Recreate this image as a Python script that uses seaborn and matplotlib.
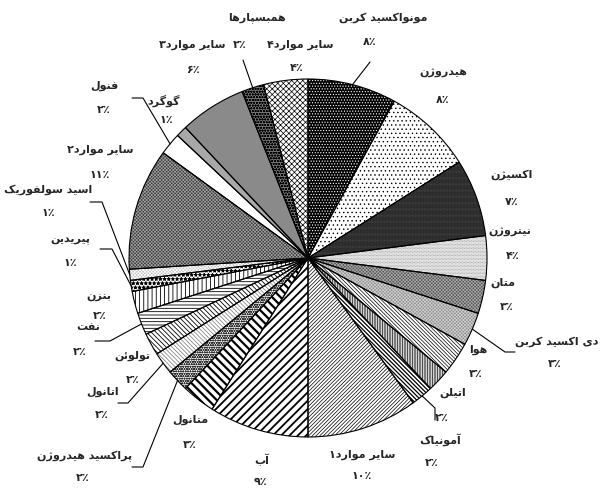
import matplotlib
matplotlib.use('Agg')
import matplotlib.pyplot as plt
import seaborn as sns
import numpy as np

sns.set_style('white')
plt.rcParams['font.family'] = ['DejaVu Sans']
plt.rcParams['hatch.linewidth'] = 0.5

# data (clockwise from 12 o'clock)
labels = ['مونواکسید کربن', 'هیدروژن', 'اکسیژن', 'نیتروژن', 'متان', 'دی اکسید کربن',
          'هوا', 'اتیلن', 'آمونیاک', 'سایر موارد۱', 'آب', 'متانول', 'پراکسید هیدروژن',
          'اتانول', 'تولوئن', 'نفت', 'بنزن', 'پیریدین', 'اسید سولفوریک', 'سایر موارد۲',
          'فنول', 'گوگرد', 'سایر موارد۳', 'همبسپارها', 'سایر موارد۴']
values = [8, 8, 7, 4, 3, 3, 3, 2, 2, 10, 9, 3, 2, 2, 2, 2, 2, 1, 1, 11, 2, 1, 6, 2, 4]

# styles: face colour, hatch symbol, repeat count, hatch colour, hatch width
face = ['#000000', '#ffffff', '#0a0a0a', '#ffffff', '#555555', '#909090',
        '#ffffff', '#ffffff', '#ffffff', '#ffffff', '#ffffff', '#ffffff', '#ffffff',
        '#ffffff', '#ffffff', '#ffffff', '#ffffff', '#ffffff', '#c4c4c4', '#3a3a3a',
        '#ffffff', '#a8a8a8', '#8a8a8a', '#7a7a7a', '#ffffff']
hatch_sym = ['.', '.', '.', '.', 'x', 'x',
             '\\', '|', '\\', '/', '/', '\\', 'o',
             '\\', '\\', '-', '|', '*', 'x', 'x',
             '', '', '', 'o', 'x']
hatch_rep = [6, 4, 14, 12, 10, 10,
             9, 10, 8, 9, 4, 4, 7,
             8, 7, 5, 4, 4, 10, 10,
             0, 0, 0, 6, 6]
hatch_col = ['white', 'black', '#6a6a6a', '#8a8a8a', '#a8a8a8', '#cfcfcf',
             'black', 'black', 'black', 'black', 'black', 'black', '#333333',
             '#777777', 'black', 'black', 'black', 'black', 'white', '#a0a0a0',
             'black', 'black', 'black', 'black', 'black']
hatch_lw = [0.5, 0.5, 0.5, 0.5, 0.5, 0.5,
            0.5, 0.5, 0.9, 0.5, 1.3, 1.6, 0.6,
            0.5, 0.6, 0.6, 0.6, 0.6, 0.5, 0.5,
            0.5, 0.5, 0.5, 0.6, 0.5]

# label layout in image pixels (y down): name, percent
name_pos = [(383, 18), (443, 73), (512, 175), (510, 232), (503, 283), (557, 342),
            (478, 350), (453, 393), (440, 440), (362, 455), (262, 460), (190, 420),
            (85, 456), (103, 392), (132, 356), (88, 327), (99, 297), (70, 240),
            (48, 190), (100, 150), (104, 86), (164, 101), (192, 45), (257, 18), (300, 45)]
pct_pos = [(370, 42), (443, 100), (512, 202), (513, 256), (507, 307), (555, 364),
           (476, 374), (442, 418), (432, 463), (362, 476), (260, 482), (190, 445),
           (83, 478), (102, 415), (133, 380), (80, 352), (100, 316), (70, 263),
           (48, 213), (100, 175), (104, 110), (166, 120), (193, 70), (240, 45), (297, 68)]
leaders = {0: [(370, 62)], 23: [(243, 60)], 20: [(132, 98), (143, 98)],
           18: [(90, 202), (102, 202)], 17: [(100, 249), (112, 249)],
           15: [(95, 341), (110, 341)], 13: [(118, 403), (128, 403)],
           12: [(132, 467), (143, 467)], 8: [(435, 420), (435, 408)],
           5: [(515, 352), (505, 352)]}

FORMS = {
    'ا': ('\uFE8D', '\uFE8E', None, None), 'آ': ('\uFE81', '\uFE82', None, None),
    'ب': ('\uFE8F', '\uFE90', '\uFE91', '\uFE92'), 'پ': ('\uFB56', '\uFB57', '\uFB58', '\uFB59'),
    'ت': ('\uFE95', '\uFE96', '\uFE97', '\uFE98'), 'د': ('\uFEA9', '\uFEAA', None, None),
    'ر': ('\uFEAD', '\uFEAE', None, None), 'ز': ('\uFEAF', '\uFEB0', None, None),
    'ژ': ('\uFB8A', '\uFB8B', None, None), 'س': ('\uFEB1', '\uFEB2', '\uFEB3', '\uFEB4'),
    'ف': ('\uFED1', '\uFED2', '\uFED3', '\uFED4'), 'ک': ('\uFB8E', '\uFB8F', '\uFB90', '\uFB91'),
    'گ': ('\uFB92', '\uFB93', '\uFB94', '\uFB95'), 'ل': ('\uFEDD', '\uFEDE', '\uFEDF', '\uFEE0'),
    'م': ('\uFEE1', '\uFEE2', '\uFEE3', '\uFEE4'), 'ن': ('\uFEE5', '\uFEE6', '\uFEE7', '\uFEE8'),
    'و': ('\uFEED', '\uFEEE', None, None), 'ه': ('\uFEE9', '\uFEEA', '\uFEEB', '\uFEEC'),
    'ی': ('\uFBFC', '\uFBFD', '\uFBFE', '\uFBFF'), 'ئ': ('\uFE89', '\uFE8A', '\uFE8B', '\uFE8C'),
}


def shape(text):
    # tiny persian shaper: contextual forms + right-to-left order
    out = []
    for i, c in enumerate(text):
        if c not in FORMS:
            out.append(c)
            continue
        prev = text[i - 1] if i > 0 else ''
        nxt = text[i + 1] if i + 1 < len(text) else ''
        p = prev in FORMS and FORMS[prev][2] is not None
        n = FORMS[c][2] is not None and nxt in FORMS
        iso, fin, ini, med = FORMS[c]
        out.append(med if p and n else fin if p else ini if n else iso)
    return ''.join(reversed(out))


def fa_pct(v):
    return str(v).translate(str.maketrans('0123456789', '۰۱۲۳۴۵۶۷۸۹')) + '٪'


W, H = 602, 490
cx, cy, R = 308, H - 258, 179

fig = plt.figure(figsize=(W / 100, H / 100), dpi=100)
ax = fig.add_axes([0, 0, 1, 1])

wedges, _ = ax.pie(values, colors=face, startangle=90, counterclock=False,
                   center=(cx, cy), radius=R, wedgeprops=dict(linewidth=0))
for w, hs, hr, hc, hl in zip(wedges, hatch_sym, hatch_rep, hatch_col, hatch_lw):
    w.set_edgecolor(hc)
    if hs:
        w.set_hatch(hs * hr)
        if hasattr(w, 'set_hatch_linewidth'):
            w.set_hatch_linewidth(hl)
ax.pie(values, startangle=90, counterclock=False, center=(cx, cy), radius=R,
       wedgeprops=dict(facecolor='none', edgecolor='black', linewidth=0.8))

txt = dict(ha='center', va='center', fontsize=8, fontweight='bold')
for i, lab in enumerate(labels):
    nx, ny = name_pos[i]
    px, py = pct_pos[i]
    ax.text(nx, H - ny, shape(lab), **txt)
    ax.text(px, H - py, fa_pct(values[i]), **txt)
    if i in leaders:
        w = wedges[i]
        mid = np.deg2rad((w.theta1 + w.theta2) / 2)
        pts = [(x, H - y) for x, y in leaders[i]] + [(cx + R * np.cos(mid), cy + R * np.sin(mid))]
        ax.plot([p[0] for p in pts], [p[1] for p in pts], color='black', lw=0.8)

ax.set_xlim(0, W)
ax.set_ylim(0, H)
ax.set_aspect('equal', adjustable='box')
ax.axis('off')

fig.savefig('out.png', dpi=100, facecolor='white')
